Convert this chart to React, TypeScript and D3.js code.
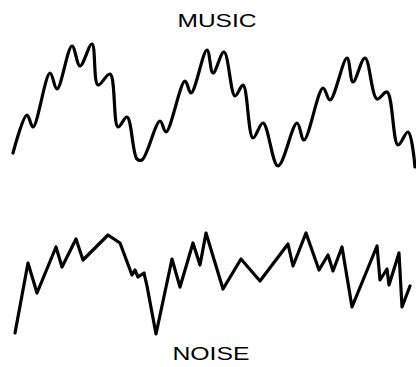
import React from "react";
import * as d3 from "d3";

const musicTime = [13, 27, 33, 50, 57, 72, 80, 92, 98, 110, 118, 127, 137, 142, 160, 166, 185, 191, 207, 213, 224, 235, 243, 253, 263, 278, 297, 304, 323, 330, 347, 353, 365, 377, 387, 398, 408, 415];
const musicAmp = [17, 55, 43, 97, 81, 124, 104, 126, 85, 96, 43, 53, 11, 10, 49, 38, 89, 77, 120, 97, 118, 74, 85, 32, 47, 4, 47, 30, 82, 70, 112, 88, 112, 71, 78, 25, 38, 3];

const noiseTime = [15, 28, 37, 56, 62, 76, 83, 108, 120, 132, 135, 138, 144, 147, 156, 172, 180, 193, 200, 206, 223, 241, 260, 288, 293, 306, 319, 328, 333, 342, 352, 377, 380, 387, 389, 399, 402, 410];
const noiseAmp = [7, 77, 47, 93, 73, 101, 80, 105, 97, 65, 70, 63, 67, 54, 6, 81, 53, 97, 75, 107, 51, 81, 59, 96, 74, 107, 70, 85, 69, 93, 33, 94, 60, 71, 55, 87, 33, 54];

const labels = ["MUSIC", "NOISE"];

export default function App() {
  const W = 416, H = 367;
  const x = d3.scaleLinear().domain([0, 416]).range([0, W]);
  const yMusic = d3.scaleLinear().domain([0, 130]).range([170, 40]);
  const yNoise = d3.scaleLinear().domain([0, 110]).range([340, 230]);

  const musicLine = d3.line<number>()
    .x((_, i) => x(musicTime[i]))
    .y((d) => yMusic(d))
    .curve(d3.curveCatmullRom.alpha(0.5));
  const noiseLine = d3.line<number>()
    .x((_, i) => x(noiseTime[i]))
    .y((d) => yNoise(d))
    .curve(d3.curveLinear);

  return (
    <svg width={W} height={H} style={{ position: "absolute", left: 0, top: 0, background: "#fff" }}>
      <rect width={W} height={H} fill="#fff" />
      <path d={musicLine(musicAmp) || ""} fill="none" stroke="#000" strokeWidth={3.2} strokeLinejoin="round" strokeLinecap="round" />
      <path d={noiseLine(noiseAmp) || ""} fill="none" stroke="#000" strokeWidth={3.2} strokeLinejoin="round" strokeLinecap="round" />
      <text x={217} y={27} textAnchor="middle" fontFamily="Liberation Sans, Arial, sans-serif" fontSize={19} textLength={79} lengthAdjust="spacingAndGlyphs" fill="#000">{labels[0]}</text>
      <text x={211} y={360} textAnchor="middle" fontFamily="Liberation Sans, Arial, sans-serif" fontSize={19} textLength={77} lengthAdjust="spacingAndGlyphs" fill="#000">{labels[1]}</text>
    </svg>
  );
}
